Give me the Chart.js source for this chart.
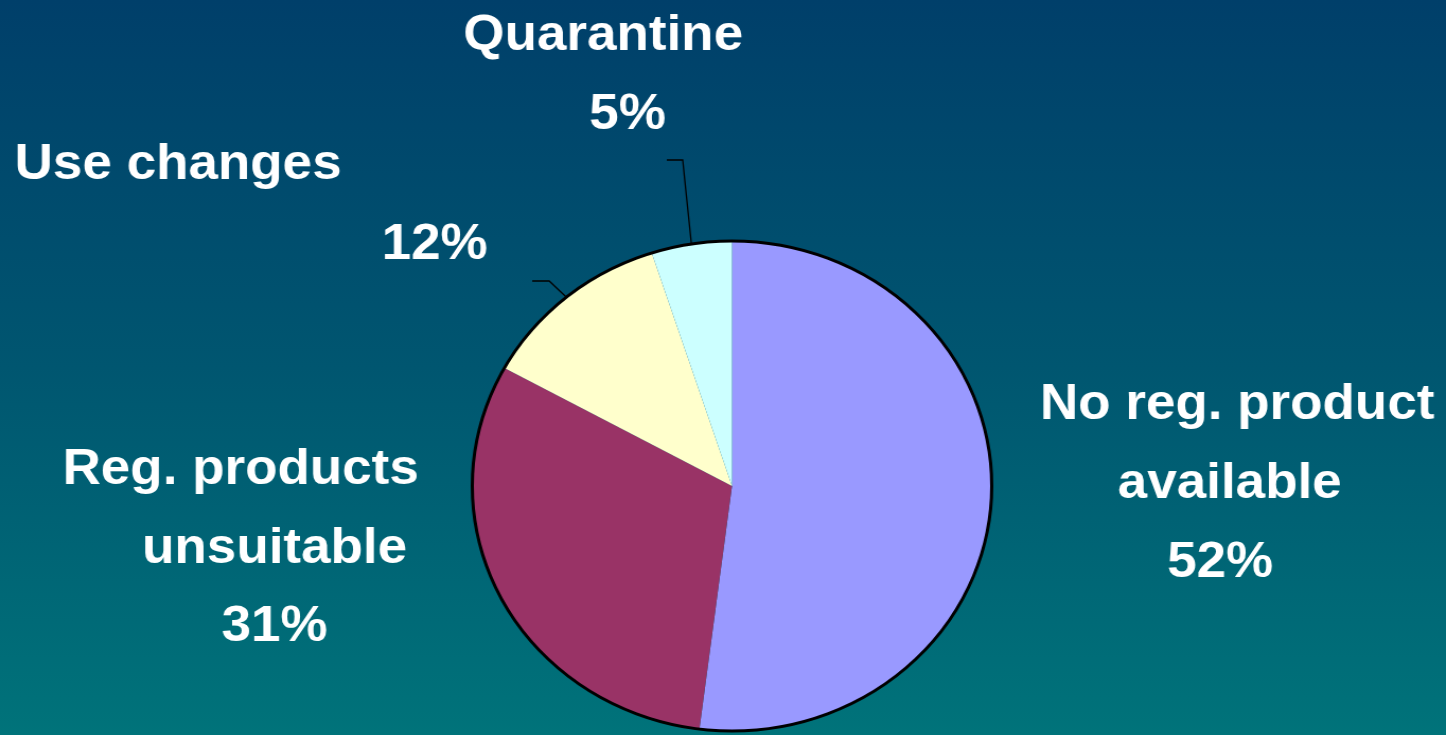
<!DOCTYPE html>
<html>
<head>
<meta charset="utf-8">
<script src="https://cdn.jsdelivr.net/npm/chart.js@4.4.0/dist/chart.umd.min.js"></script>
<style>
  html, body { margin: 0; padding: 0; overflow: hidden; }
  body {
    width: 1446px; height: 735px;
    background: linear-gradient(to bottom, #003f6a 0%, #005670 50%, #00737a 100%);
  }
  #pie { display: block; transform: scaleX(1.0601); transform-origin: 0 0; }
</style>
</head>
<body>
<canvas id="pie" width="1364" height="735"></canvas>
<script>
const categories = ['No reg. product available', 'Reg. products unsuitable', 'Use changes', 'Quarantine'];
const shares = [52, 31, 12, 5];
const sliceColors = ['#9999ff', '#993366', '#ffffcc', '#ccffff'];

// label text placement (canvas units, before the horizontal stretch)
const labelLines = [
  [['No reg. product', 1167, 419], ['available', 1160, 498], ['52%', 1151, 577]],
  [['Reg. products', 227, 484], ['unsuitable', 259, 563], ['31%', 259, 641]],
  [['Use changes', 168, 179], ['12%', 410, 259]],
  [['Quarantine', 569, 50], ['5%', 592, 129]]
];
// leader lines: start and elbow, the end is taken from the slice
const leaders = [null, null, [[502, 281], [518, 281]], [[629, 160], [644, 160]]];

const labelPlugin = {
  id: 'labels',
  afterDatasetsDraw(chart) {
    const c = chart.ctx;
    const arcs = chart.getDatasetMeta(0).data;
    const cx = arcs[0].x, cy = arcs[0].y, r = arcs[0].outerRadius;

    // outer ring only
    c.save();
    c.beginPath();
    c.arc(cx, cy, r, 0, Math.PI * 2);
    c.lineWidth = 3;
    c.strokeStyle = '#000';
    c.stroke();

    c.lineWidth = 1.3;
    leaders.forEach((pts, i) => {
      if (!pts) return;
      const a = arcs[i];
      const mid = (a.startAngle + a.endAngle) / 2;
      c.beginPath();
      c.moveTo(pts[0][0], pts[0][1]);
      c.lineTo(pts[1][0], pts[1][1]);
      c.lineTo(cx + Math.cos(mid) * r, cy + Math.sin(mid) * r);
      c.stroke();
    });

    c.fillStyle = '#ffffff';
    c.font = 'bold 50px "Liberation Sans", Arial, sans-serif';
    c.textAlign = 'center';
    c.textBaseline = 'alphabetic';
    labelLines.forEach(lines => lines.forEach(([t, x, y]) => c.fillText(t, x, y)));
    c.restore();
  }
};

new Chart(document.getElementById('pie'), {
  type: 'pie',
  data: {
    labels: categories,
    datasets: [{
      data: shares,
      backgroundColor: sliceColors,
      borderWidth: 0
    }]
  },
  options: {
    responsive: false,
    animation: false,
    layout: { padding: { top: 241, bottom: 4, left: 445.5, right: 428.5 } },
    plugins: { legend: { display: false }, tooltip: { enabled: false } }
  },
  plugins: [labelPlugin]
});
</script>
</body>
</html>
